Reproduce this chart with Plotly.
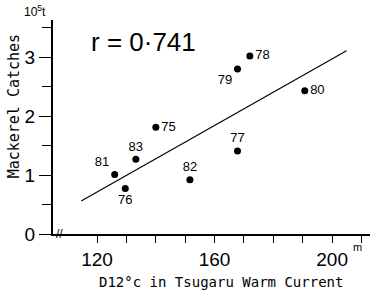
import plotly.graph_objects as go

# Data
years = ["75", "76", "77", "78", "79", "80", "81", "82", "83"]
depth_m = [140.0, 129.6, 167.8, 172.0, 167.8, 190.7, 126.0, 151.6, 133.2]
catches = [1.81, 0.77, 1.41, 3.02, 2.80, 2.43, 1.01, 0.92, 1.27]
label_pos = ["middle right", "bottom center", "top center", "middle right",
             "bottom left", "middle right", "top left", "top center", "top center"]

fit_x = [114.6, 204.9]
fit_y = [0.56, 3.11]

x_ticks = [120, 160, 200]
x_minor = [120, 130, 140, 150, 160, 170, 180, 190, 200, 210]
y_ticks = [0, 1, 2, 3]
y_minor = [0.5, 1.5, 2.5, 3.5]

FONT = "Liberation Sans"
MONO = "DejaVu Sans Mono"

fig = go.Figure()
fig.add_trace(go.Scatter(x=fit_x, y=fit_y, mode="lines",
                         line=dict(color="black", width=1.2), hoverinfo="skip"))
fig.add_trace(go.Scatter(x=depth_m, y=catches, mode="markers+text",
                         marker=dict(color="black", size=7),
                         text=years, textposition=label_pos,
                         textfont=dict(family=FONT, size=13, color="black")))

fig.update_layout(
    width=372, height=294,
    margin=dict(l=53, r=2, t=20, b=60),
    paper_bgcolor="white", plot_bgcolor="white",
    showlegend=False,
    font=dict(family=FONT, color="black"),
    xaxis=dict(range=[105, 212.9], tickvals=x_ticks,
               ticks="outside", ticklen=7, tickwidth=1.2, tickcolor="black",
               minor=dict(tickvals=x_minor, ticks="outside", ticklen=7,
                          tickwidth=1.2, tickcolor="black"),
               showline=True, linecolor="black", linewidth=2.2,
               showgrid=False, zeroline=False, automargin=False,
               tickfont=dict(size=19, family=FONT)),
    yaxis=dict(range=[0, 3.63], tickvals=y_ticks,
               ticks="outside", ticklen=12, tickwidth=1.2, tickcolor="black",
               minor=dict(tickvals=y_minor, ticks="outside", ticklen=9,
                          tickwidth=1.2, tickcolor="black"),
               showline=True, linecolor="black", linewidth=2.2,
               showgrid=False, zeroline=False, automargin=False,
               tickfont=dict(size=19, family=FONT)),
    annotations=[
        dict(text="r = 0·741", xref="paper", yref="paper", x=0.115, y=0.897,
             xanchor="left", yanchor="middle", showarrow=False,
             font=dict(size=26, family=FONT)),
        dict(text="Mackerel Catches", xref="paper", yref="paper", x=-0.122, y=0.598,
             textangle=-90, showarrow=False, xanchor="center", yanchor="middle",
             font=dict(size=15, family=MONO)),
        dict(text="D12°c in Tsugaru Warm Current", xref="paper", yref="paper",
             x=0.53, y=-0.225, xanchor="center", yanchor="middle", showarrow=False,
             font=dict(size=14, family=MONO)),
        dict(text="10<sup>5</sup>t", xref="paper", yref="paper", x=-0.015, y=0.995,
             xanchor="right", yanchor="bottom", showarrow=False,
             font=dict(size=12, family=FONT)),
        dict(text="m", xref="paper", yref="paper", x=0.94, y=-0.06,
             xanchor="left", yanchor="middle", showarrow=False,
             font=dict(size=11, family=FONT)),
        dict(text="//", xref="paper", yref="paper", x=0.022, y=0.0,
             xanchor="center", yanchor="middle", showarrow=False,
             font=dict(size=12, family=FONT)),
    ],
)

fig.write_html("out.html", config={"displayModeBar": False},
               post_script="document.body.style.margin='0px';document.body.style.overflow='hidden';")
